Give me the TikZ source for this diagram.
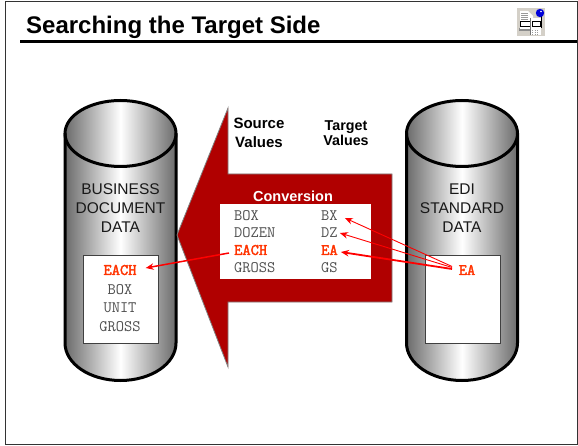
\documentclass[tikz,border=0pt]{standalone}
\usepackage{fontspec}
\setmainfont{Liberation Sans}
\newfontfamily\hotmono[FakeBold=2.5]{Latin Modern Mono}
\usetikzlibrary{arrows.meta}
\definecolor{arrowred}{RGB}{176,0,0}
\definecolor{hot}{RGB}{255,51,0}
\definecolor{monogray}{RGB}{80,80,80}
\definecolor{iconbg}{RGB}{212,208,200}
\tikzset{
  x=1pt,y=-1pt,
  cylbody/.style={line width=3pt,draw=black},
  lbl/.style={font=\fontsize{15.5}{19.2}\selectfont,align=center,text=black!90,inner sep=0pt},
  head/.style={font=\fontsize{15}{19}\selectfont\bfseries,align=center,inner sep=0pt},
  val/.style={font=\fontsize{16}{18}\selectfont\ttfamily,text=monogray,inner sep=0pt},
  hotval/.style={font=\fontsize{16}{18}\selectfont\hotmono,text=hot,inner sep=0pt},
  wbox/.style={draw=black!75,fill=white,line width=.7pt},
  ptr/.style={draw=red,-{Stealth[length=8pt,width=6.5pt]}},
}
\newcommand{\cylinder}[1]{%
  \begin{scope}[shift={(#1,0)}]
    \path[left color=black!58,right color=black!58,middle color=white]
      (-55.5,133.5) -- (-55.5,343) arc[x radius=55.5,y radius=37.5,start angle=180,end angle=0] -- (55.5,133.5) -- cycle;
    \path[left color=black!58,right color=black!58,middle color=white]
      (0,133.5) ellipse[x radius=55.5,y radius=33];
    \draw[cylbody,line join=round] (-55.5,133.5) -- (-55.5,343) arc[x radius=55.5,y radius=37.5,start angle=180,end angle=0] -- (55.5,133.5);
    \draw[cylbody] (0,133.5) ellipse[x radius=55.5,y radius=33];
  \end{scope}}
\begin{document}
\begin{tikzpicture}
\useasboundingbox (0,0) rectangle (578,446);
\fill[white] (0,0) rectangle (578,446);
\draw[black!80,line width=1pt] (5.5,1.5) rectangle (577,444);
\draw[black,line width=2.2pt] (20,41.5) -- (577,41.5);
\node[anchor=west,inner sep=0pt,font=\fontsize{24}{28}\selectfont\bfseries] (title) at (26,27) {Searching the Target Side};
% icon
\fill[iconbg] (517,8) rectangle (545,36);
\fill[black!45] (519,28) rectangle (532,31);
\fill[white] (520,11) -- (528,11) -- (533,16) -- (533,29) -- (520,29) -- cycle;
\foreach \yy in {13,15,17,19}{\draw[black!40,line width=.6pt] (521,\yy) -- (528,\yy);}
\draw[black,line width=.8pt] (520,21.5) rectangle (530,26);
\fill[white] (530,18) rectangle (541,35.5);
\draw[black!55,line width=.5pt] (530,18) -- (530,35.5);
\draw[black,line width=1pt] (532,22) rectangle (540,27);
\foreach \yy in {30,32,34}{\draw[black!40,line width=.6pt,dotted] (532,\yy) -- (539,\yy);}
\draw[black,line width=.8pt] (541,16) -- (541,28);
\fill[blue!85!black] (540,13) circle (4.2);
\fill[white] (541,11.5) circle (.9);
% cylinders
\cylinder{120.5}
\cylinder{462}
\node[lbl] (bdd) at (120.5,208) {BUSINESS\\DOCUMENT\\DATA};
\node[lbl] (edi) at (462,208) {EDI\\STANDARD\\DATA};
\node[wbox,minimum width=75pt,minimum height=88pt,inner sep=0pt] (lbox) at (120.5,299) {};
\node[wbox,minimum width=75pt,minimum height=88pt,inner sep=0pt] (rbox) at (462.5,299) {};
% big arrow
\draw[draw=black!50,fill=arrowred,line width=.8pt,line join=miter]
  (177,235) -- (228,108) -- (228,174) -- (392,174) -- (392,302) -- (228,302) -- (228,367) -- cycle;
\node[minimum width=151pt,minimum height=75pt,fill=white,inner sep=0pt] (tbl) at (295.5,241.5) {};
\node[head,text=white,font=\fontsize{14.5}{17}\selectfont\bfseries] (conv) at (293,196) {Conversion};
\node[head] (src) at (259,133) {Source\\Values};
\node[head,font=\fontsize{14.3}{15}\selectfont\bfseries] (tgt) at (346,133) {Target\\Values};
\foreach \n/\t/\y in {box/BOX/216,doz/DOZEN/233,gro/GROSS/268}{\node[val,anchor=west] (\n) at (234,\y) {\t};}
\foreach \n/\t/\y in {bx/BX/216,dz/DZ/233,gs/GS/268}{\node[val,anchor=west] (\n) at (321,\y) {\t};}
\node[hotval,anchor=west] (each) at (234,250) {EACH};
\node[hotval,anchor=west] (ea) at (321,250) {EA};
\node[hotval] (leach) at (120,270) {EACH};
\node[val] (lbox2) at (120,289.5) {BOX};
\node[val] (lunit) at (120,308) {UNIT};
\node[val] (lgross) at (120,327) {GROSS};
\node[hotval] (rea) at (467,270) {EA};
\draw[ptr,line width=.9pt] ([shift={(-6.5,-3.5)}]rea.west) -- ([shift={(7,2)}]bx.east);
\draw[ptr,line width=.9pt] ([shift={(-6.5,-2.5)}]rea.west) -- ([shift={(2,0)}]dz.east);
\draw[ptr,line width=1.8pt] ([shift={(-6.5,-1)}]rea.west) -- ([shift={(3,2)}]ea.east);
\draw[ptr,line width=1.5pt] ([shift={(-5,3)}]each.west) -- ([shift={(9,-2)}]leach.east);
\end{tikzpicture}
\end{document}
